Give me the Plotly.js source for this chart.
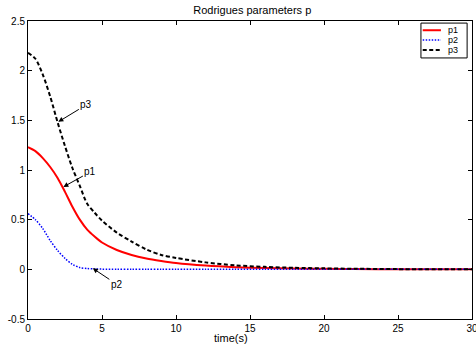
<!DOCTYPE html>
<html>
<head>
<meta charset="utf-8">
<script src="https://cdn.plot.ly/plotly-3.0.1.min.js"></script>
<style>html,body{margin:0;padding:0;background:#fff;}#chart{width:476px;height:347px;}</style>
</head>
<body>
<div id="chart"></div>
<script>
var time = [0, 0.5, 1, 1.5, 2, 2.5, 3, 3.5, 4, 4.5, 5, 6, 7, 8, 9, 10, 12, 14, 16, 18, 20, 22, 25, 30];
var p1 = [1.23, 1.19, 1.12, 1.03, 0.92, 0.78, 0.63, 0.50, 0.40, 0.33, 0.27, 0.195, 0.145, 0.11, 0.085, 0.064, 0.038, 0.022, 0.013, 0.008, 0.005, 0.003, 0.001, 0];
var p2 = [0.56, 0.50, 0.41, 0.29, 0.19, 0.11, 0.05, 0.018, 0.008, 0.004, 0.002, 0.001, 0, 0, 0, 0, 0, 0, 0, 0, 0, 0, 0, 0];
var p3 = [2.18, 2.12, 1.96, 1.74, 1.48, 1.24, 1.02, 0.84, 0.66, 0.57, 0.49, 0.37, 0.28, 0.2, 0.145, 0.115, 0.07, 0.04, 0.025, 0.015, 0.01, 0.006, 0.002, 0];
var seriesNames = ['p1', 'p2', 'p3'];
var xTicks = [0, 5, 10, 15, 20, 25, 30];
var yTicks = [-0.5, 0, 0.5, 1, 1.5, 2, 2.5];
// annotation anchor points (arrow tips) in data units
var labelText = ['p3', 'p1', 'p2'];
var labelX = [2.05, 2.39, 4.38];
var labelY = [1.485, 0.83, 0.01];

var font = 'Liberation Sans, Arial, sans-serif';
var styles = [
  {color: '#ff0000', width: 2, dash: 'solid'},
  {color: '#0000ff', width: 1.5, dash: '1.5px,1.5px'},
  {color: '#000000', width: 2, dash: '4px,2.5px'}
];
var ys = [p1, p2, p3];
var traces = ys.map(function (y, i) {
  return {x: time, y: y, name: seriesNames[i], mode: 'lines', showlegend: false,
    line: {color: styles[i].color, width: styles[i].width, dash: styles[i].dash, shape: 'spline', smoothing: 0.8}};
});
var offs = [[28, -17], [27, -15], [24, 16]];
var annotations = labelText.map(function (t, i) {
  return {x: labelX[i], y: labelY[i], xref: 'x', yref: 'y', text: t, showarrow: true,
    arrowhead: 2, arrowsize: 1, arrowwidth: 1, arrowcolor: '#000', ax: offs[i][0], ay: offs[i][1],
    font: {family: font, size: 10, color: '#000'}};
});
// compact legend (MATLAB style) in paper coordinates
var shapes = [{type: 'rect', xref: 'paper', yref: 'paper', x0: 0.885, x1: 0.989, y0: 0.876, y1: 0.993,
  line: {color: '#000', width: 1}, fillcolor: '#fff', layer: 'above'}];
var rowY = [0.969, 0.936, 0.903];
seriesNames.forEach(function (n, i) {
  shapes.push({type: 'line', xref: 'paper', yref: 'paper', x0: 0.889, x1: 0.93, y0: rowY[i], y1: rowY[i],
    line: {color: styles[i].color, width: styles[i].width, dash: styles[i].dash}, layer: 'above'});
  annotations.push({xref: 'paper', yref: 'paper', x: 0.941, y: rowY[i], xanchor: 'left', yanchor: 'middle',
    text: n, showarrow: false, font: {family: font, size: 9, color: '#000'}});
});
annotations.push({xref: 'paper', yref: 'paper', x: 0.457, y: -0.064, xanchor: 'center', yanchor: 'middle',
  text: 'time(s)', showarrow: false, font: {family: font, size: 11, color: '#000'}});
var axisCommon = {showline: true, mirror: 'ticks', linecolor: '#000', linewidth: 1, ticks: 'inside', ticklen: 4,
  tickcolor: '#000', showgrid: false, zeroline: false, automargin: false, ticklabeloverflow: 'allow',
  tickfont: {family: font, size: 10, color: '#000'}};
var layout = {
  width: 476, height: 347,
  margin: {l: 28, r: 4, t: 21, b: 28, autoexpand: false},
  paper_bgcolor: '#fff', plot_bgcolor: '#fff',
  title: {text: 'Rodrigues parameters p', font: {family: font, size: 11, color: '#000'}, x: 0.53, xanchor: 'center', y: 0.972, yref: 'container', yanchor: 'middle'},
  xaxis: Object.assign({}, axisCommon, {range: [0, 30], tickvals: xTicks, ticktext: xTicks.map(String)}),
  yaxis: Object.assign({}, axisCommon, {range: [-0.5, 2.5], tickvals: yTicks, ticktext: yTicks.map(String)}),
  showlegend: false,
  shapes: shapes,
  annotations: annotations
};
Plotly.newPlot('chart', traces, layout, {displayModeBar: false, staticPlot: true});
</script>
</body>
</html>
